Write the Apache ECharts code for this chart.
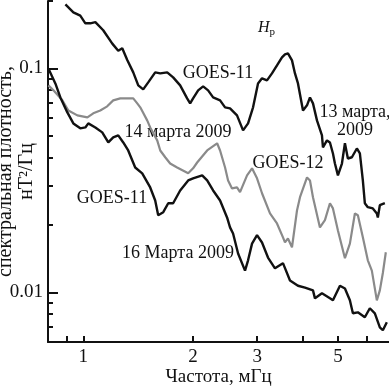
<!DOCTYPE html>
<html>
<head>
<meta charset="utf-8">
<script src="https://cdn.jsdelivr.net/npm/echarts@6/dist/echarts.min.js"></script>
<style>
  html, body { margin: 0; padding: 0; background: #fff; }
  #chart { width: 389px; height: 387px; }
</style>
</head>
<body>
<div id="chart"></div>
<script>
// 13 марта 2009, GOES-11
const freq13 = [0.893, 0.939, 0.981, 1.013, 1.045, 1.079, 1.134, 1.201, 1.247, 1.279, 1.320, 1.371, 1.415, 1.460, 1.507, 1.575, 1.626, 1.699, 1.764, 1.844, 1.927, 1.964, 2.001, 2.066, 2.132, 2.200, 2.271, 2.373, 2.449, 2.527, 2.641, 2.744, 2.832, 2.923, 3.016, 3.093, 3.192, 3.294, 3.400, 3.509, 3.576, 3.644, 3.738, 3.809, 3.882, 4.007, 4.110, 4.188, 4.268, 4.377, 4.517, 4.546, 4.662, 4.751, 4.842, 4.903, 4.997, 5.125, 5.223, 5.321, 5.458, 5.632, 5.740, 5.849, 5.923, 6.036, 6.230, 6.390, 6.430, 6.512, 6.721];
const psd13 = [0.193, 0.178, 0.172, 0.159, 0.159, 0.161, 0.148, 0.129, 0.120, 0.123, 0.109, 0.096, 0.084, 0.0806, 0.0866, 0.096, 0.095, 0.096, 0.0912, 0.084, 0.0735, 0.0698, 0.0735, 0.0798, 0.0831, 0.0798, 0.0742, 0.0720, 0.0670, 0.0663, 0.0617, 0.0529, 0.0568, 0.0670, 0.0857, 0.0903, 0.0884, 0.095, 0.1031, 0.112, 0.1155, 0.1167, 0.1086, 0.095, 0.0857, 0.0649, 0.0684, 0.0742, 0.0698, 0.0586, 0.0502, 0.0444, 0.0477, 0.0467, 0.0417, 0.0376, 0.0333, 0.0376, 0.0463, 0.0396, 0.0401, 0.0439, 0.0417, 0.0316, 0.0250, 0.0240, 0.0237, 0.0225, 0.0216, 0.0245, 0.0250];

// 14 марта 2009, GOES-12
const freq14 = [0.802, 0.828, 0.876, 0.910, 0.963, 1.026, 1.065, 1.113, 1.163, 1.208, 1.263, 1.320, 1.371, 1.406, 1.433, 1.497, 1.526, 1.595, 1.626, 1.678, 1.731, 1.809, 1.940, 2.001, 2.053, 2.187, 2.329, 2.373, 2.449, 2.496, 2.559, 2.641, 2.692, 2.814, 2.904, 2.997, 3.093, 3.253, 3.400, 3.531, 3.576, 3.644, 3.738, 3.858, 3.932, 4.110, 4.188, 4.268, 4.460, 4.603, 4.751, 4.842, 4.997, 5.223, 5.389, 5.562, 5.668, 5.849, 6.036, 6.191, 6.390, 6.512, 6.637, 6.763];
const psd14 = [0.084, 0.0798, 0.072, 0.0649, 0.0617, 0.0604, 0.063, 0.0649, 0.0677, 0.072, 0.0735, 0.0735, 0.0735, 0.0698, 0.067, 0.0586, 0.0545, 0.0477, 0.043, 0.0401, 0.0376, 0.0361, 0.034, 0.0358, 0.038, 0.043, 0.0463, 0.043, 0.0361, 0.0316, 0.0291, 0.0294, 0.028, 0.0333, 0.0358, 0.0323, 0.0277, 0.0225, 0.0203, 0.0176, 0.0167, 0.0174, 0.0159, 0.0232, 0.0266, 0.0326, 0.0316, 0.0266, 0.0195, 0.021, 0.025, 0.0237, 0.0189, 0.0142, 0.0165, 0.0225, 0.0221, 0.0176, 0.0139, 0.0125, 0.00921, 0.0102, 0.0122, 0.0151];

// 16 марта 2009, GOES-11
const freq16 = [0.802, 0.838, 0.865, 0.904, 0.939, 0.981, 1.013, 1.032, 1.079, 1.127, 1.171, 1.208, 1.247, 1.287, 1.328, 1.388, 1.451, 1.526, 1.575, 1.605, 1.657, 1.710, 1.764, 1.844, 1.940, 2.001, 2.119, 2.187, 2.271, 2.373, 2.480, 2.527, 2.576, 2.659, 2.778, 2.832, 2.904, 2.997, 3.093, 3.212, 3.357, 3.531, 3.691, 3.882, 4.058, 4.268, 4.322, 4.517, 4.751, 4.842, 5.061, 5.223, 5.389, 5.492, 5.668, 5.923, 6.113, 6.310, 6.512, 6.637, 6.806];
const psd16 = [0.1, 0.0857, 0.0742, 0.0636, 0.0568, 0.054, 0.0545, 0.0568, 0.0545, 0.0518, 0.0467, 0.0492, 0.0502, 0.0467, 0.043, 0.0361, 0.034, 0.0294, 0.0257, 0.0221, 0.0228, 0.025, 0.025, 0.0285, 0.0316, 0.0323, 0.0333, 0.0316, 0.0285, 0.0257, 0.0216, 0.0195, 0.0183, 0.0149, 0.0125, 0.0139, 0.0165, 0.018, 0.0167, 0.0143, 0.0128, 0.0135, 0.0113, 0.0107, 0.0105, 0.0102, 0.0094, 0.0099, 0.0094, 0.00921, 0.0107, 0.0104, 0.00921, 0.00806, 0.00814, 0.00774, 0.00849, 0.00806, 0.00698, 0.00677, 0.00735];

// ticks
const xLabelValues = [1, 2, 3, 5];
const xTickValues = [0.9, 1, 2, 3, 4, 5, 6];
const yLabelValues = [0.01, 0.1];
const yMinorValues = [0.007, 0.008, 0.009, 0.02, 0.03, 0.04, 0.05, 0.06, 0.07, 0.08, 0.09, 0.2];

const serif = '"Liberation Serif", "Times New Roman", serif';

function pairs(xs, ys) {
    return xs.map((x, i) => [x, ys[i]]);
}

const chart = echarts.init(document.getElementById("chart"));

const yBase = {
    type: "log",
    min: 0.006,
    max: 0.2,
    position: "left",
    splitLine: { show: false },
};

const option = {
    animation: false,
    backgroundColor: "#fff",
    textStyle: { fontFamily: serif },
    grid: { left: 48, right: 0, top: 1, bottom: 45, outerBoundsMode: "none" },
    xAxis: {
        type: "log",
        min: 0.8,
        max: 6.9,
        name: "Частота, мГц",
        nameLocation: "middle",
        nameGap: 26,
        nameMoveOverlap: false,
        nameTextStyle: { fontFamily: serif, fontSize: 19, color: "#111" },
        axisLine: { lineStyle: { color: "#111", width: 2 } },
        axisTick: { show: true, customValues: xTickValues, inside: true, length: 6, lineStyle: { color: "#111", width: 2 } },
        axisLabel: { customValues: xLabelValues, fontFamily: serif, fontSize: 19, color: "#111", margin: 6 },
        splitLine: { show: false },
    },
    yAxis: [
        {
            ...yBase,
            name: "спектральная плотность,\nнТ²/Гц",
            nameLocation: "middle",
            nameGap: 11,
            nameMoveOverlap: false,
            nameTextStyle: { fontFamily: serif, fontSize: 20, color: "#111", lineHeight: 21 },
            axisLine: { show: true, lineStyle: { color: "#111", width: 2 } },
            axisTick: { show: true, customValues: yLabelValues, inside: true, length: 10, lineStyle: { color: "#111", width: 2 } },
            axisLabel: { customValues: yLabelValues, fontFamily: serif, fontSize: 19, color: "#111", margin: 5 },
        },
        {
            // minor ticks only
            ...yBase,
            axisLine: { show: false },
            axisTick: { show: true, customValues: yMinorValues, inside: true, length: 5, lineStyle: { color: "#111", width: 2 } },
            axisLabel: { show: false },
        },
    ],
    series: [
        {
            name: "GOES-11, 13 марта 2009",
            type: "line",
            data: pairs(freq13, psd13),
            showSymbol: false,
            lineStyle: { color: "#111", width: 2.4 },
        },
        {
            name: "GOES-12, 14 марта 2009",
            type: "line",
            data: pairs(freq14, psd14),
            showSymbol: false,
            lineStyle: { color: "#8a8a8a", width: 2.2 },
        },
        {
            name: "GOES-11, 16 марта 2009",
            type: "line",
            data: pairs(freq16, psd16),
            showSymbol: false,
            lineStyle: { color: "#111", width: 2.4 },
        },
    ],
    graphic: [
        { type: "text", x: 258, y: 28, style: { text: "{h|H}{p|p}", fontFamily: serif, fill: "#111", verticalAlign: "middle",
            rich: { h: { fontSize: 16, fontStyle: "italic", fontFamily: serif }, p: { fontSize: 11, fontFamily: serif, padding: [8, 0, 0, 0] } } } },
        { type: "text", x: 218, y: 73, style: { text: "GOES-11", fontFamily: serif, fontSize: 18, fill: "#111", align: "center", verticalAlign: "middle" } },
        { type: "text", x: 355, y: 121, style: { text: "13 марта,\n2009", fontFamily: serif, fontSize: 18, lineHeight: 18, fill: "#111", align: "center", verticalAlign: "middle" } },
        { type: "text", x: 178, y: 132, style: { text: "14 марта 2009", fontFamily: serif, fontSize: 18, fill: "#111", align: "center", verticalAlign: "middle" } },
        { type: "text", x: 288, y: 163, style: { text: "GOES-12", fontFamily: serif, fontSize: 18, fill: "#111", align: "center", verticalAlign: "middle" } },
        { type: "text", x: 112, y: 198, style: { text: "GOES-11", fontFamily: serif, fontSize: 18, fill: "#111", align: "center", verticalAlign: "middle" } },
        { type: "text", x: 178, y: 253, style: { text: "16 Марта 2009", fontFamily: serif, fontSize: 18, fill: "#111", align: "center", verticalAlign: "middle" } },
    ],
};

option && chart.setOption(option);
window.addEventListener("resize", function () {
    chart.resize();
});
</script>
</body>
</html>
